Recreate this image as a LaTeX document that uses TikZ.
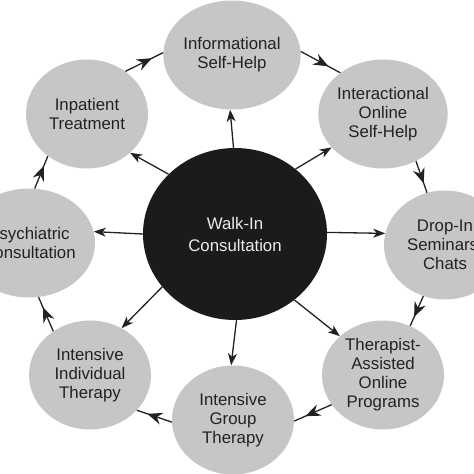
\documentclass[tikz,border=0pt]{standalone}
\usepackage{fontspec}
\setmainfont{Liberation Sans}
\usetikzlibrary{shapes.geometric,arrows.meta,decorations.markings}
\definecolor{ringgray}{HTML}{C6C6C6}
\definecolor{inkdark}{HTML}{222222}
\definecolor{coreblack}{HTML}{1C1A1A}
\tikzset{
  outer/.style={ellipse, fill=ringgray, draw=none, minimum width=122pt, minimum height=109pt,
    inner sep=0pt, align=center, text=inkdark, font=\fontsize{16.8}{19}\selectfont},
  core/.style={ellipse, fill=coreblack, draw=none, minimum width=184pt, minimum height=172pt,
    inner sep=0pt, align=center, text=white!92!black, font=\fontsize{16.8}{22}\selectfont},
  spoke/.style={draw=inkdark, line width=1.3pt, -{Stealth[length=12pt,width=9pt,inset=3.5pt]}},
  ringarrow/.style={draw=inkdark, line width=1.3pt, postaction={decorate},
    decoration={markings, mark=at position 0.7 with {\arrow{Stealth[length=15pt,width=12pt,inset=5pt]}}}}
}
\begin{document}
\begin{tikzpicture}[x=1pt,y=-1pt]
\useasboundingbox (0,0) rectangle (474,474);
\node[outer] (info)  at (232,55)  {Informational\\Self-Help};
\node[outer] (inter) at (383,114) {Interactional\\Online\\Self-Help};
\node[outer] (drop)  at (445,245) {Drop-In\\Seminars/\\Chats};
\node[outer] (ther)  at (383,375) {Therapist-\\Assisted\\Online\\Programs};
\node[outer] (grp)   at (233,420) {Intensive\\Group\\Therapy};
\node[outer] (indiv) at (90,375)  {Intensive\\Individual\\Therapy};
\node[outer] (psy)   at (29,243)  {Psychiatric\\Consultation};
\node[outer] (inp)   at (87,114)  {Inpatient\\Treatment};
\node[core]  (wc)    at (235,234) {Walk-In\\Consultation};
% spokes
\draw[spoke] (wc.91)  -- (info.268);
\draw[spoke] (wc.47)  -- (inter.213);
\draw[spoke] (wc.1)   -- (drop.169);
\draw[spoke] (wc.312) -- (ther.138);
\draw[spoke] (wc.271) -- (grp.92);
\draw[spoke] (wc.216) -- (indiv.56);
\draw[spoke] (wc.180) -- (psy.10);
\draw[spoke] (wc.138) -- (inp.318);
% ring
\draw[ringarrow] (psy.84)    -- (inp.227);
\draw[ringarrow] (inp.48)    -- (info.178);
\draw[ringarrow] (info.3)    -- (inter.136);
\draw[ringarrow] (inter.305) -- (drop.109);
\draw[ringarrow] (drop.247)  -- (ther.61);
\draw[ringarrow] (ther.210)  -- (grp.359);
\draw[ringarrow] (grp.182)   -- (indiv.323);
\draw[ringarrow] (indiv.130) -- (psy.280);
\end{tikzpicture}
\end{document}
